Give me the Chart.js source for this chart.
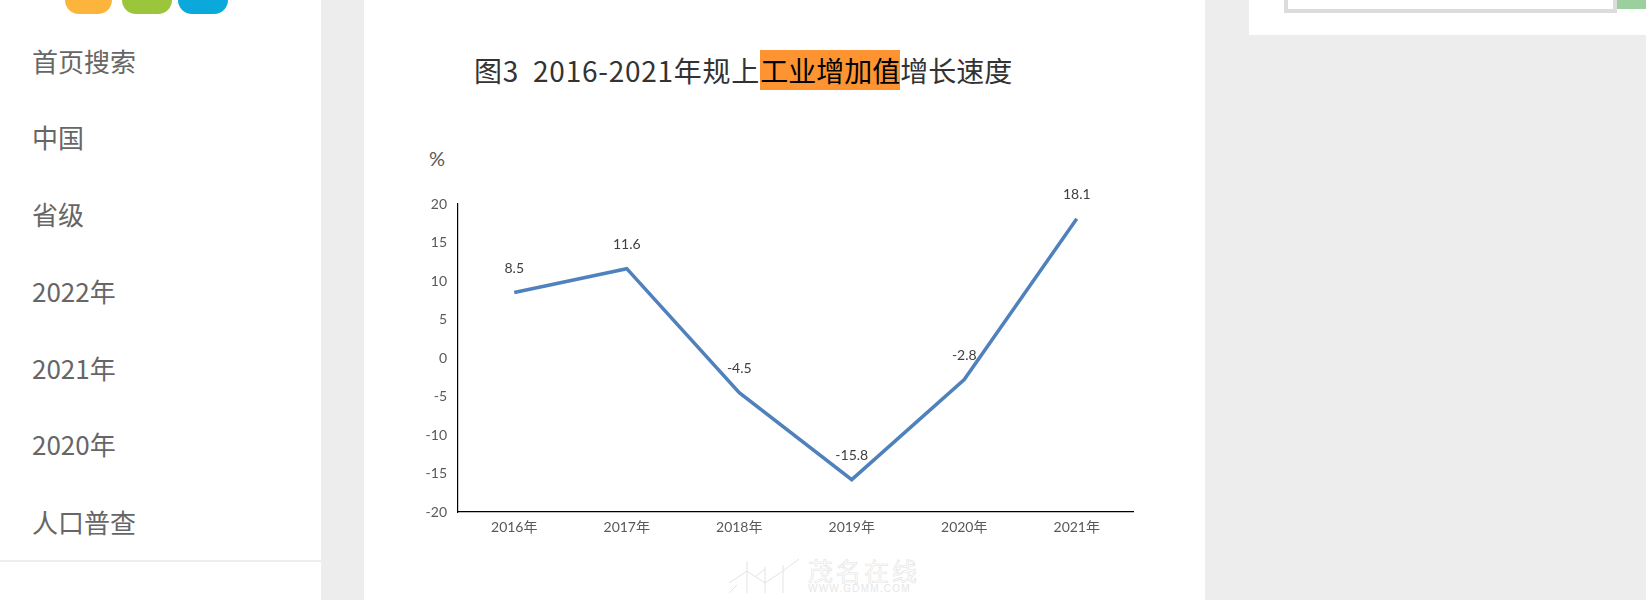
<!DOCTYPE html>
<html>
<head>
<meta charset="utf-8">
<script src="https://cdn.jsdelivr.net/npm/chart.js@4.4.0/dist/chart.umd.min.js"></script>
<style>
  body { margin: 0; width: 1646px; height: 600px; background: #ededed; overflow: hidden; position: relative;
    font-family: "Noto Sans CJK SC", "Noto Sans", sans-serif; }
  .abs { position: absolute; }
  .side { left: 0; top: 0; width: 321px; height: 600px; background: #fff; }
  .side .item { position: absolute; left: 32px; font-size: 26px; color: #666; line-height: 30px; }
  .side .sep { position: absolute; left: 0; top: 560px; width: 321px; height: 2px; background: #eeeeee; }
  .blob { position: absolute; top: -30px; height: 44px; border-radius: 14px; }
  .card { left: 364px; top: 0; width: 841px; height: 600px; background: #fff; }
  .title { left: 474px; top: 52px; font-size: 28px; color: #333; line-height: 37px; white-space: pre; }
  .title .pre { letter-spacing: 0.75px; }
  .title .hl { background: #fd9331; color: #000; }
  .pct { left: 429px; top: 146px; font-size: 20px; color: #595959; font-family: Lato, sans-serif; }
  .topbox { left: 1249px; top: 0; width: 397px; height: 35px; background: #fff; }
  .input { left: 1284px; top: -4px; width: 325px; height: 9px; border: 4px solid #dcdcdc; background: #fff; }
  .go { left: 1617px; top: 0; width: 29px; height: 9px; background: #9ad09e; }
  .wm1 { left: 808px; top: 552px; font-size: 25px; color: transparent; -webkit-text-stroke: 0.6px #e3e3e3; letter-spacing: 3px; }
  .wm2 { left: 808px; top: 583px; font-size: 10px; color: #e6e6e6; letter-spacing: 1.2px; font-family: "Liberation Sans", sans-serif; }
  .wmicon { left: 725px; top: 555px; }
</style>
</head>
<body>
<div class="abs side">
  <div class="blob" style="left:65px;width:47px;background:#fdb43d;"></div>
  <div class="blob" style="left:122px;width:50px;background:#9bc53a;"></div>
  <div class="blob" style="left:178px;width:50px;background:#0ba9db;"></div>
  <div class="item" style="top:46px">首页搜索</div>
  <div class="item" style="top:122px">中国</div>
  <div class="item" style="top:199px">省级</div>
  <div class="item" style="top:276px">2022年</div>
  <div class="item" style="top:353px">2021年</div>
  <div class="item" style="top:429px">2020年</div>
  <div class="item" style="top:507px">人口普查</div>
  <div class="sep"></div>
</div>
<div class="abs card"></div>
<div class="abs topbox"></div>
<div class="abs input"></div>
<div class="abs go"></div>
<div class="abs title"><span class="pre">图3  2016-2021年规上</span><span class="hl">工业增加值</span>增长速度</div>
<div class="abs pct">%</div>
<svg class="abs wmicon" width="76" height="40" viewBox="0 0 76 40">
  <g fill="none" stroke="#e3e3e3" stroke-width="1">
    <path d="M4 28 L22 16 L40 28 L58 16 L74 4"/>
    <path d="M22 6 V38 M40 12 V38 M58 10 V38"/>
    <path d="M4 38 L12 30 M30 22 L40 14"/>
  </g>
</svg>
<div class="abs wm1">茂名在线</div>
<div class="abs wm2">WWW.GDMM.COM</div>
<canvas id="chart" class="abs" style="left:380px;top:150px;width:780px;height:410px;" width="780" height="410"></canvas>

<script>
const years = ['2016年', '2017年', '2018年', '2019年', '2020年', '2021年']
const growth = [8.5, 11.6, -4.5, -15.8, -2.8, 18.1]
const yMin = -20
const yMax = 20
const yStep = 5

const labelFont = '14px Lato, "Noto Sans CJK SC", sans-serif'

// draws the value above each point
const valueLabels = {
  id: 'valueLabels',
  afterDatasetsDraw(chart) {
    const ctx = chart.ctx
    const meta = chart.getDatasetMeta(0)
    ctx.save()
    ctx.font = labelFont
    ctx.fillStyle = '#404040'
    ctx.textAlign = 'center'
    ctx.textBaseline = 'middle'
    meta.data.forEach((pt, i) => {
      ctx.fillText(String(growth[i]), pt.x, pt.y - 24)
    })
    ctx.restore()
  }
}

new Chart(document.getElementById('chart'), {
  type: 'line',
  data: {
    labels: years,
    datasets: [{
      data: growth,
      borderColor: '#4f81bd',
      borderWidth: 3.5,
      pointRadius: 0,
      tension: 0,
      fill: false
    }]
  },
  options: {
    responsive: false,
    animation: false,
    layout: { padding: { top: 54, right: 27, left: 0, bottom: 0 } },
    plugins: { legend: { display: false }, tooltip: { enabled: false } },
    scales: {
      x: {
        offset: true,
        grid: { display: false, drawTicks: false },
        border: { display: true, color: '#000', width: 1.2 },
        ticks: { color: '#595959', font: { size: 14, family: 'Lato, "Noto Sans CJK SC", sans-serif' }, padding: 7 },
        afterFit(scale) { scale.height = 48 }
      },
      y: {
        min: yMin,
        max: yMax,
        grid: { display: false, drawTicks: false },
        border: { display: true, color: '#000', width: 1.2 },
        ticks: { stepSize: yStep, color: '#595959', font: { size: 14, family: 'Lato, sans-serif' }, padding: 11 },
        afterFit(scale) { scale.width = 78 }
      }
    }
  },
  plugins: [valueLabels]
})
</script>
</body>
</html>
